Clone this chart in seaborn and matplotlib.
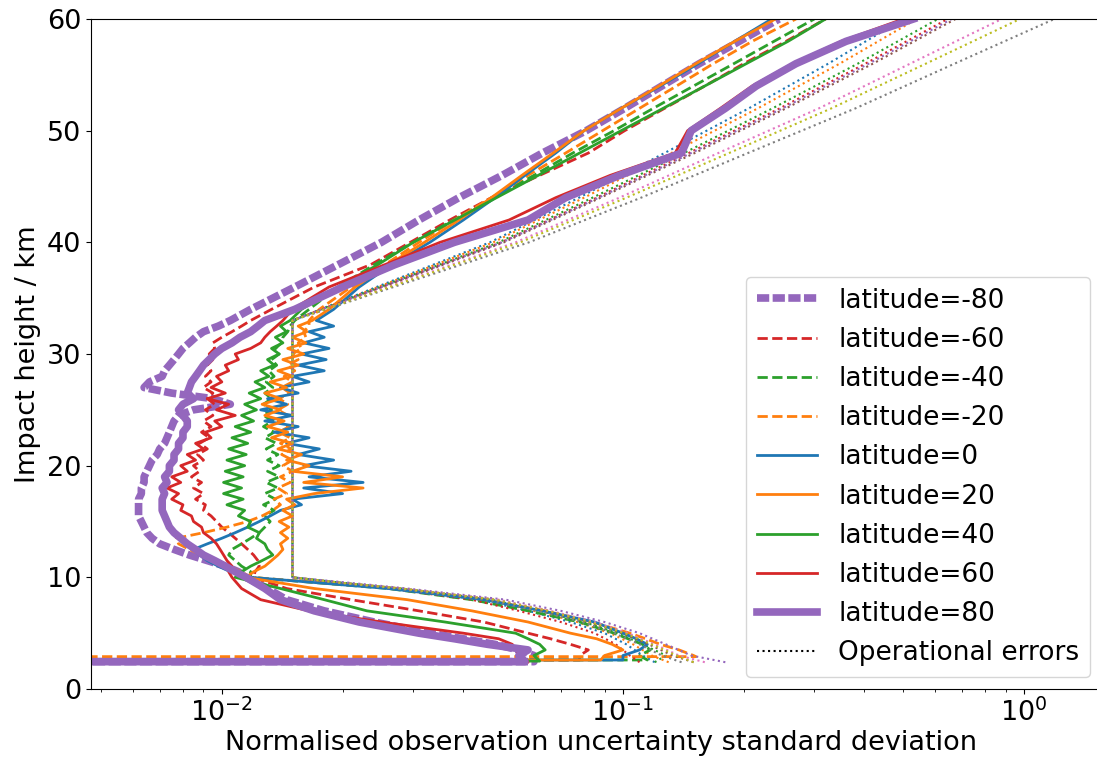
import matplotlib
matplotlib.use("Agg")
import matplotlib.pyplot as plt
from matplotlib.lines import Line2D
import seaborn as sns

# ---------------- data ----------------
H_LOW = [3, 3.5, 4, 4.5, 5, 6, 7, 8, 9, 10]
H_MID = [10.5, 11, 11.5, 12, 12.5, 13, 13.5, 14, 14.5, 15, 15.5, 16, 16.5, 17,
         17.5, 18, 18.5, 19, 19.5, 20, 20.5, 21, 21.5, 22, 22.5, 23, 23.5, 24,
         24.5, 25, 25.5, 26, 26.5, 27, 27.5, 28, 28.5, 29, 29.5, 30, 30.5, 31,
         31.5, 32, 32.5, 33]
H_HIGH = [34, 36, 38, 40, 42, 44, 46, 48, 50, 52, 54, 56, 58, 60]
HEIGHTS = H_LOW + H_MID + H_HIGH

LATITUDES = [-80, -60, -40, -20, 0, 20, 40, 60, 80]

lat_m80 = [0.060, 0.055, 0.048, 0.040, 0.033, 0.024, 0.018, 0.0145, 0.013, 0.0115,
           0.0110, 0.0102, 0.0092, 0.0083, 0.0076, 0.0070, 0.0067, 0.0065, 0.0064, 0.0063,
           0.0062, 0.0062, 0.0062, 0.0062, 0.0063, 0.0063, 0.0064, 0.0064, 0.0065, 0.0066,
           0.0067, 0.0069, 0.0070, 0.0072, 0.0073, 0.0074, 0.0075, 0.0076, 0.0078, 0.0085,
           0.0105, 0.0095, 0.0075, 0.0064, 0.0066, 0.0071, 0.0072, 0.0074, 0.0076, 0.0078,
           0.0080, 0.0083, 0.0086, 0.0090, 0.0098, 0.0105,
           0.0118, 0.0152, 0.0195, 0.0250, 0.0310, 0.0390, 0.0500, 0.0630, 0.0810, 0.101,
           0.125, 0.155, 0.195, 0.245]
lat_m60 = [0.078, 0.082, 0.074, 0.066, 0.058, 0.045, 0.031, 0.021, 0.0145, 0.0120,
           0.0121, 0.0124, 0.0123, 0.0120, 0.0116, 0.0112, 0.0108, 0.0104, 0.0100, 0.0097,
           0.0094, 0.0090, 0.0091, 0.0086, 0.0090, 0.0085, 0.0089, 0.0084, 0.0088, 0.0085,
           0.0090, 0.0087, 0.0092, 0.0088, 0.0093, 0.0089, 0.0094, 0.0090, 0.0095, 0.0091,
           0.0096, 0.0092, 0.0095, 0.0090, 0.0094, 0.0091, 0.0094, 0.0092, 0.0095, 0.0093,
           0.0096, 0.0095, 0.0100, 0.0106, 0.0112, 0.0118,
           0.0133, 0.0170, 0.0235, 0.0295, 0.0370, 0.0470, 0.0620, 0.0820, 0.101, 0.127,
           0.160, 0.200, 0.255, 0.320]
lat_m40 = [0.110, 0.117, 0.112, 0.103, 0.095, 0.078, 0.058, 0.042, 0.026, 0.0118,
           0.0118, 0.0112, 0.0108, 0.0104, 0.0106, 0.0112, 0.0118, 0.0124, 0.0128, 0.0132,
           0.0128, 0.0135, 0.0127, 0.0136, 0.0128, 0.0138, 0.0129, 0.0139, 0.0130, 0.0139,
           0.0130, 0.0138, 0.0129, 0.0137, 0.0128, 0.0135, 0.0127, 0.0134, 0.0127, 0.0133,
           0.0127, 0.0133, 0.0128, 0.0134, 0.0129, 0.0135, 0.0131, 0.0137, 0.0133, 0.0139,
           0.0136, 0.0141, 0.0142, 0.0146, 0.0148, 0.0152,
           0.0165, 0.0195, 0.0240, 0.0300, 0.0378, 0.0475, 0.0600, 0.0750, 0.0950, 0.119,
           0.150, 0.189, 0.238, 0.300]
lat_m20 = [0.150, 0.138, 0.124, 0.114, 0.104, 0.084, 0.064, 0.045, 0.027, 0.0118,
           0.0112, 0.0104, 0.0096, 0.0089, 0.0083, 0.0078, 0.0077, 0.0090, 0.0103, 0.0116,
           0.0126, 0.0134, 0.0140, 0.0135, 0.0145, 0.0138, 0.0148, 0.0140, 0.0150, 0.0142,
           0.0150, 0.0141, 0.0149, 0.0140, 0.0148, 0.0139, 0.0147, 0.0138, 0.0146, 0.0138,
           0.0146, 0.0139, 0.0148, 0.0141, 0.0150, 0.0143, 0.0152, 0.0146, 0.0155, 0.0150,
           0.0158, 0.0155, 0.0162, 0.0160, 0.0165, 0.0165,
           0.0175, 0.0210, 0.0255, 0.0310, 0.0380, 0.0470, 0.0580, 0.0720, 0.0890, 0.110,
           0.136, 0.168, 0.210, 0.270]
lat_0 = [0.100, 0.110, 0.115, 0.108, 0.100, 0.085, 0.063, 0.045, 0.026, 0.0118,
         0.0105, 0.0098, 0.0092, 0.0088, 0.0085, 0.0092, 0.0100, 0.0108, 0.0116, 0.0124,
         0.0132, 0.0140, 0.0158, 0.0150, 0.0200, 0.0160, 0.0225, 0.0165, 0.0210, 0.0160,
         0.0190, 0.0155, 0.0175, 0.0145, 0.0165, 0.0135, 0.0155, 0.0128, 0.0150, 0.0125,
         0.0145, 0.0130, 0.0155, 0.0140, 0.0165, 0.0150, 0.0180, 0.0155, 0.0182, 0.0158,
         0.0185, 0.0160, 0.0180, 0.0165, 0.0190, 0.0172,
         0.0190, 0.0220, 0.0265, 0.0330, 0.0400, 0.0480, 0.0570, 0.0680, 0.0800, 0.0990,
         0.124, 0.154, 0.190, 0.235]
lat_20 = [0.090, 0.100, 0.094, 0.086, 0.074, 0.058, 0.042, 0.029, 0.017, 0.0115,
          0.0120, 0.0128, 0.0133, 0.0138, 0.0142, 0.0140, 0.0146, 0.0140, 0.0147, 0.0139,
          0.0150, 0.0142, 0.0152, 0.0145, 0.0170, 0.0225, 0.0160, 0.0200, 0.0150, 0.0165,
          0.0145, 0.0158, 0.0138, 0.0150, 0.0133, 0.0146, 0.0130, 0.0143, 0.0128, 0.0140,
          0.0126, 0.0140, 0.0128, 0.0145, 0.0132, 0.0150, 0.0138, 0.0155, 0.0142, 0.0160,
          0.0146, 0.0162, 0.0150, 0.0163, 0.0155, 0.0168,
          0.0185, 0.0215, 0.0260, 0.0320, 0.0390, 0.0470, 0.0560, 0.0670, 0.0800, 0.0990,
          0.123, 0.152, 0.190, 0.240]
lat_40 = [0.060, 0.064, 0.062, 0.058, 0.054, 0.036, 0.023, 0.018, 0.014, 0.0108,
          0.0112, 0.0118, 0.0126, 0.0134, 0.0130, 0.0128, 0.0122, 0.0124, 0.0116, 0.0118,
          0.0110, 0.0114, 0.0103, 0.0113, 0.0101, 0.0112, 0.0101, 0.0113, 0.0102, 0.0114,
          0.0103, 0.0115, 0.0104, 0.0116, 0.0106, 0.0118, 0.0108, 0.0120, 0.0112, 0.0122,
          0.0114, 0.0125, 0.0117, 0.0128, 0.0121, 0.0131, 0.0125, 0.0135, 0.0130, 0.0139,
          0.0133, 0.0142, 0.0136, 0.0145, 0.0140, 0.0148,
          0.0158, 0.0195, 0.0245, 0.0300, 0.0381, 0.0484, 0.0615, 0.0780, 0.0990, 0.126,
          0.160, 0.203, 0.258, 0.320]
lat_60 = [0.056, 0.054, 0.053, 0.049, 0.040, 0.025, 0.0165, 0.0125, 0.0112, 0.0106,
          0.0104, 0.0106, 0.0103, 0.0101, 0.0099, 0.0097, 0.0094, 0.0090, 0.0089, 0.0085,
          0.0084, 0.0079, 0.0080, 0.0075, 0.0078, 0.0073, 0.0079, 0.0075, 0.0082, 0.0079,
          0.0086, 0.0082, 0.0090, 0.0086, 0.0094, 0.0091, 0.0100, 0.0096, 0.0108, 0.0097,
          0.0104, 0.0092, 0.0102, 0.0094, 0.0100, 0.0097, 0.0104, 0.0102, 0.0110, 0.0108,
          0.0118, 0.0125, 0.0128, 0.0132, 0.0137, 0.0142,
          0.0150, 0.0185, 0.0255, 0.0350, 0.0520, 0.0680, 0.0930, 0.135, 0.145, 0.175,
          0.210, 0.265, 0.350, 0.500]
lat_80 = [0.055, 0.058, 0.046, 0.038, 0.031, 0.022, 0.017, 0.014, 0.0128, 0.0115,
          0.0108, 0.0102, 0.0096, 0.0090, 0.0086, 0.0082, 0.0079, 0.0076, 0.0074, 0.0073,
          0.0072, 0.0071, 0.0071, 0.0071, 0.0072, 0.0071, 0.0073, 0.0072, 0.0074, 0.0074,
          0.0076, 0.0076, 0.0078, 0.0078, 0.0080, 0.0080, 0.0082, 0.0082, 0.0080, 0.0078,
          0.0080, 0.0085, 0.0082, 0.0083, 0.0084, 0.0086, 0.0088, 0.0090, 0.0093, 0.0096,
          0.0100, 0.0106, 0.0111, 0.0118, 0.0123, 0.0128,
          0.0152, 0.0200, 0.0270, 0.0380, 0.0580, 0.0720, 0.0980, 0.140, 0.148, 0.180,
          0.215, 0.270, 0.360, 0.530]
SERIES = [lat_m80, lat_m60, lat_m40, lat_m20, lat_0, lat_20, lat_40, lat_60, lat_80]

# lowest level of each profile: height and value where it drops off to the left
FLOOR_H = [2.45, 2.6, 2.6, 2.9, 2.6, 2.6, 2.5, 2.4, 2.45]
FLOOR_V = [0.060, 0.078, 0.115, 0.152, 0.100, 0.088, 0.062, 0.058, 0.057]
FLOOR_END = 1e-4

# operational error profiles (one per latitude)
OP_H = [2.4, 3, 4, 5, 6, 7, 8, 9, 9.5, 10, 33, 36, 40, 44, 48, 52, 56, 60]
op_m80 = [0.120, 0.112, 0.102, 0.090, 0.074, 0.058, 0.044, 0.027, 0.020, 0.015,
          0.015, 0.0243, 0.0466, 0.0777, 0.127, 0.206, 0.325, 0.50]
op_m60 = [0.130, 0.118, 0.106, 0.093, 0.077, 0.060, 0.046, 0.028, 0.020, 0.015,
          0.015, 0.0245, 0.0475, 0.080, 0.132, 0.217, 0.347, 0.54]
op_m40 = [0.120, 0.128, 0.112, 0.097, 0.080, 0.062, 0.047, 0.028, 0.020, 0.015,
          0.015, 0.0248, 0.049, 0.084, 0.142, 0.236, 0.385, 0.61]
op_m20 = [0.110, 0.104, 0.096, 0.085, 0.070, 0.055, 0.042, 0.026, 0.019, 0.015,
          0.015, 0.0250, 0.0497, 0.086, 0.146, 0.246, 0.402, 0.645]
op_0 = [0.180, 0.148, 0.128, 0.110, 0.090, 0.070, 0.051, 0.029, 0.021, 0.015,
        0.015, 0.0250, 0.050, 0.087, 0.148, 0.250, 0.410, 0.660]
op_20 = [0.150, 0.133, 0.116, 0.100, 0.082, 0.064, 0.048, 0.028, 0.020, 0.015,
         0.015, 0.0252, 0.0505, 0.088, 0.151, 0.255, 0.420, 0.675]
op_40 = [0.160, 0.138, 0.120, 0.103, 0.085, 0.066, 0.049, 0.028, 0.020, 0.015,
         0.015, 0.0259, 0.054, 0.098, 0.173, 0.308, 0.520, 0.88]
op_60 = [0.140, 0.125, 0.110, 0.095, 0.079, 0.061, 0.046, 0.027, 0.020, 0.015,
         0.015, 0.0268, 0.0583, 0.111, 0.205, 0.380, 0.671, 1.19]
op_80 = [0.150, 0.136, 0.118, 0.101, 0.083, 0.065, 0.048, 0.028, 0.020, 0.015,
         0.015, 0.0262, 0.0555, 0.102, 0.184, 0.331, 0.569, 0.977]
OP_SERIES = [op_m80, op_m60, op_m40, op_m20, op_0, op_20, op_40, op_60, op_80]

# ---------------- styles ----------------
LAT_COLORS = ["tab:purple", "tab:red", "tab:green", "tab:orange", "tab:blue",
              "tab:orange", "tab:green", "tab:red", "tab:purple"]
LAT_WIDTHS = [5.5, 2, 2, 2, 2, 2, 2, 2, 5.5]
LAT_STYLES = [(0, (1.6, 0.45)), "--", "--", "--", "-", "-", "-", "-", "-"]
OP_COLORS = ["tab:blue", "tab:orange", "tab:green", "tab:red", "tab:purple",
             "tab:brown", "tab:pink", "tab:gray", "tab:olive"]

for s in SERIES:
    assert len(s) == len(HEIGHTS), len(s)
for s in OP_SERIES:
    assert len(s) == len(OP_H)

FS = 19.5
fig = plt.figure(figsize=(10.97, 7.6), dpi=100)
ax = fig.add_axes([0.083, 0.0934, 0.93, 0.8816])
ax.set_xscale("log")

handles, labels = [], []
for i, lat in enumerate(LATITUDES):
    xs = [FLOOR_END, FLOOR_V[i]] + SERIES[i]
    ys = [FLOOR_H[i], FLOOR_H[i]] + HEIGHTS
    n_before = len(ax.lines)
    sns.lineplot(x=xs, y=ys, sort=False, estimator=None, orient="y", ax=ax,
                 color=LAT_COLORS[i], linewidth=LAT_WIDTHS[i],
                 linestyle=LAT_STYLES[i])
    handles.append(ax.lines[n_before])
    labels.append(f"latitude={lat}")
    sns.lineplot(x=OP_SERIES[i], y=OP_H, sort=False, estimator=None, orient="y",
                 ax=ax, color=OP_COLORS[i], linewidth=1.5, linestyle=":")

handles.append(Line2D([], [], color="black", linestyle=":", linewidth=1.5))
labels.append("Operational errors")

# keep ~401 px per decade with the wider axes: right limit extends past the canvas
ax.set_xlim(0.00472, 1.65)
ax.set_ylim(0, 60)
ax.set_yticks([0, 10, 20, 30, 40, 50, 60])
ax.tick_params(axis="both", labelsize=FS)
ax.set_xlabel("Normalised observation uncertainty standard deviation",
              fontsize=FS, labelpad=2)
ax.set_ylabel("Impact height / km", fontsize=FS)

ax.legend(handles, labels, fontsize=19, loc="lower right",
          bbox_to_anchor=(1090 / 1097, 83 / 760), bbox_transform=fig.transFigure,
          borderaxespad=0, handlelength=2.3, framealpha=0.8)

fig.savefig("out.png", dpi=100)
